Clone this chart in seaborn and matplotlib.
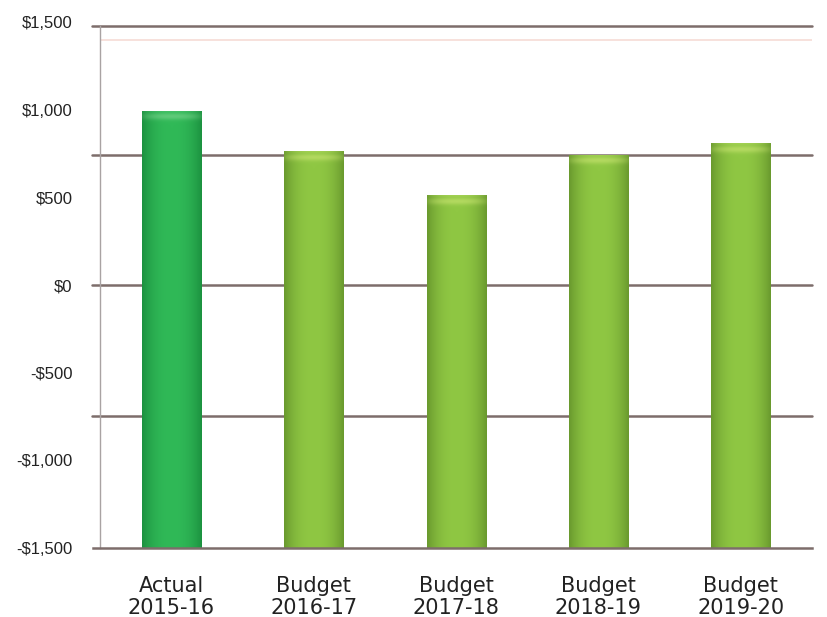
import numpy as np
import pandas as pd
import matplotlib
matplotlib.use("Agg")
import matplotlib.pyplot as plt
import seaborn as sns
from matplotlib.colors import to_rgb

# Net result by year ($)
categories = ["Actual\n2015-16", "Budget\n2016-17", "Budget\n2017-18", "Budget\n2018-19", "Budget\n2019-20"]
values = [995, 762, 512, 742, 808]
kinds = ["Actual", "Budget", "Budget", "Budget", "Budget"]
y_ticks = [-1500, -1000, -500, 0, 500, 1000, 1500]
y_tick_labels = ["-$1,500", "-$1,000", "-$500", "$0", "$500", "$1,000", "$1,500"]
grid_levels = [-745, 0, 740, 1480]

df = pd.DataFrame({"category": categories, "value": values, "kind": kinds})

sns.set_theme(style="white")
plt.rcParams["font.family"] = ["Liberation Sans", "DejaVu Sans"]

fig = plt.figure(figsize=(8.27, 6.17), dpi=100)
ax = fig.add_axes([0.121, 0.1118, 0.861, 0.8525])

base = -1500
palette = {"Actual": "#27ae4f", "Budget": "#86bf3d"}
sns.barplot(data=df, x="category", y=[v - base for v in values], hue="kind",
            palette=palette, width=0.415, dodge=False, legend=False, ax=ax,
            saturation=1, bottom=base, linewidth=0)

ax.set_xlim(-0.5, 4.5)
ax.set_ylim(-1500, 1500)

# Glossy shading on each bar, clipped to the bar shape
shades = {
    "Actual": ("#1c9240", "#30b957", "#86d896"),
    "Budget": ("#6a9a2e", "#8fc743", "#d0e877"),
}
px_per_unit = 526 / 3000
for patch, kind in zip(ax.patches, kinds):
    edge, mid, hi = (np.array(to_rgb(c)) for c in shades[kind])
    x0, y0 = patch.get_x(), patch.get_y()
    w, h = patch.get_width(), patch.get_height()
    nx, ny = 60, 800
    t = np.linspace(-1, 1, nx)
    horiz = 1 - np.abs(t) ** 2.4
    img = edge[None, None, :] + (mid - edge)[None, None, :] * horiz[None, :, None]
    img = np.repeat(img, ny, axis=0)
    # soft light band just below the top of the bar
    ys = np.linspace(y0 + h, y0, ny)
    depth_px = ((y0 + h) - ys) * px_per_unit
    band = 0.55 * np.exp(-((depth_px - 6.0) / 3.5) ** 2) + 0.25 * np.exp(-(depth_px / 1.5) ** 2)
    img = img + (hi - img) * (band[:, None, None] * (0.3 + 0.7 * horiz[None, :, None]))
    im = ax.imshow(np.clip(img, 0, 1), extent=[x0, x0 + w, y0, y0 + h],
                   aspect="auto", origin="upper", zorder=patch.get_zorder() + 0.1,
                   interpolation="bilinear")
    im.set_clip_path(patch)

# Horizontal rules
rule_color = "#7d6d6b"
for g in grid_levels:
    ax.axhline(g, xmin=-0.011, xmax=1.0, color=rule_color, lw=1.8, zorder=1, clip_on=False)
ax.axhline(1400, color="#f6dcd6", lw=1.2, zorder=0.5)

for s in ["top", "right"]:
    ax.spines[s].set_visible(False)
ax.spines["left"].set_color("#a9a3a3")
ax.spines["left"].set_linewidth(1.0)
ax.spines["left"].set_bounds(-1500, 1480)
ax.spines["bottom"].set_color(rule_color)
ax.spines["bottom"].set_linewidth(1.8)
ax.spines["bottom"].set_bounds(-0.55, 4.5)

ax.set_yticks(y_ticks)
ax.set_yticklabels(y_tick_labels, fontsize=12, color="#222222")
ax.tick_params(axis="y", length=0, pad=20)

ax.set_xticks(range(len(categories)))
ax.set_xticklabels(categories, fontsize=15, color="#222222",
                   family=["DejaVu Sans"], linespacing=1.12)
ax.tick_params(axis="x", which="major", length=0, pad=20)
ax.set_xticks([-0.5, 0.5, 1.5, 2.5, 3.5, 4.5], minor=True)
ax.tick_params(axis="x", which="minor", length=17, width=1.0, color="#c8c2c2", direction="out")

ax.set_xlabel("")
ax.set_ylabel("")
ax.grid(False)

fig.savefig("out.png", dpi=100, facecolor="white")
